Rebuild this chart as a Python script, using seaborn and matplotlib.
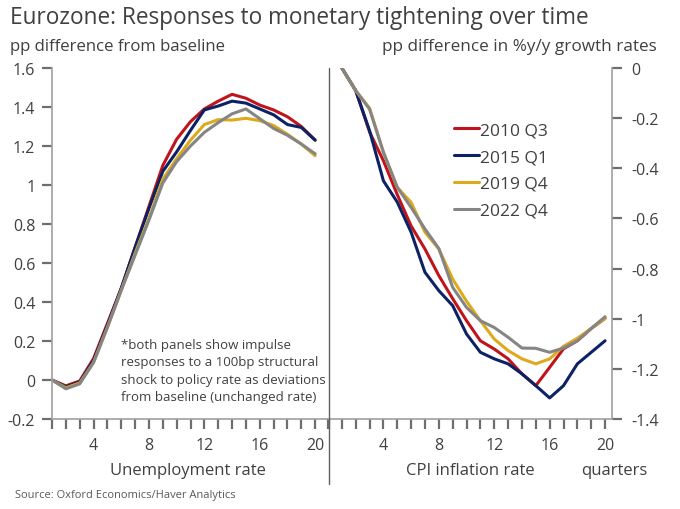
import pandas as pd
import seaborn as sns
import matplotlib.pyplot as plt
from matplotlib.lines import Line2D

# -------------------------
# DATA
# -------------------------
quarters = list(range(1, 21))
series_names = ["2010 Q3", "2015 Q1", "2019 Q4", "2022 Q4"]
colors = ["#c0141c", "#0b2265", "#dcaa1c", "#858585"]

# unemployment rate, pp difference from baseline
unemp_2010q3 = [0, -0.03, -0.005, 0.11, 0.29, 0.47, 0.68, 0.89, 1.10, 1.235,
                1.325, 1.39, 1.43, 1.465, 1.445, 1.41, 1.385, 1.35, 1.30, 1.23]
unemp_2015q1 = [0, -0.035, -0.01, 0.10, 0.28, 0.47, 0.68, 0.88, 1.07, 1.17,
                1.28, 1.385, 1.405, 1.43, 1.42, 1.39, 1.36, 1.31, 1.295, 1.23]
unemp_2019q4 = [0, -0.04, -0.015, 0.09, 0.27, 0.46, 0.65, 0.83, 1.03, 1.135,
                1.23, 1.31, 1.335, 1.333, 1.342, 1.33, 1.305, 1.26, 1.21, 1.15]
unemp_2022q4 = [0, -0.045, -0.02, 0.09, 0.27, 0.46, 0.64, 0.82, 1.01, 1.12,
                1.20, 1.27, 1.32, 1.365, 1.39, 1.34, 1.29, 1.255, 1.21, 1.16]

# CPI inflation, pp difference in %y/y growth rates
cpi_2010q3 = [0, -0.09, -0.255, -0.37, -0.505, -0.63, -0.722, -0.828, -0.92, -1.008,
              -1.088, -1.121, -1.16, -1.22, -1.267, -1.194, -1.12, -1.088, -1.039, -0.999]
cpi_2015q1 = [0, -0.09, -0.25, -0.45, -0.535, -0.655, -0.815, -0.888, -0.948, -1.061,
              -1.134, -1.16, -1.18, -1.22, -1.267, -1.316, -1.267, -1.18, -1.134, -1.088]
cpi_2019q4 = [0, -0.09, -0.16, -0.336, -0.476, -0.536, -0.655, -0.722, -0.842, -0.93,
              -1.008, -1.081, -1.127, -1.16, -1.18, -1.16, -1.11, -1.078, -1.039, -0.999]
cpi_2022q4 = [0, -0.09, -0.164, -0.336, -0.476, -0.556, -0.642, -0.72, -0.875, -0.955,
              -1.008, -1.035, -1.074, -1.117, -1.118, -1.134, -1.117, -1.088, -1.039, -0.992]

left_yticks = [-0.2, 0, 0.2, 0.4, 0.6, 0.8, 1, 1.2, 1.4, 1.6]
right_yticks = [0, -0.2, -0.4, -0.6, -0.8, -1, -1.2, -1.4]
xtick_labels = [4, 8, 12, 16, 20]

unemp = [unemp_2010q3, unemp_2015q1, unemp_2019q4, unemp_2022q4]
cpi = [cpi_2010q3, cpi_2015q1, cpi_2019q4, cpi_2022q4]

rows = []
for name, u, c in zip(series_names, unemp, cpi):
    for q, uv, cv in zip(quarters, u, c):
        rows.append({"quarter": q, "series": name, "unemp": uv, "cpi": cv})
df = pd.DataFrame(rows)

# -------------------------
# STYLE
# -------------------------
txt = "#404040"
spine_col = "#a0a0a0"
tick_col = "#6e6e6e"
sns.set_style("ticks")
plt.rcParams["font.family"] = ["Open Sans", "DejaVu Sans"]
palette = dict(zip(series_names, colors))


def fmt(v):
    s = f"{v:g}"
    return "0" if s in ("0", "-0") else s


fig = plt.figure(figsize=(6.8, 5.1), dpi=100)
ax1 = fig.add_axes([52 / 680, 1 - 420 / 510, 277 / 680, 351 / 510])
ax2 = fig.add_axes([328 / 680, 1 - 420 / 510, 284 / 680, 351 / 510])

# -------------------------
# LEFT PANEL: unemployment
# -------------------------
sns.lineplot(data=df, x="quarter", y="unemp", hue="series", palette=palette,
             linewidth=2.2, ax=ax1, legend=False)

# -------------------------
# RIGHT PANEL: CPI inflation
# -------------------------
sns.lineplot(data=df, x="quarter", y="cpi", hue="series", palette=palette,
             linewidth=2.2, ax=ax2)

ax1.set_xlim(1, 21)
ax1.set_ylim(-0.2, 1.6)
ax1.set_yticks(left_yticks)
ax1.set_yticklabels([fmt(v) for v in left_yticks])
ax1.set_xticks(xtick_labels)
ax1.set_xticks(list(range(1, 22)), minor=True)

ax2.set_xlim(0, 20.5)
ax2.set_ylim(-1.4, 0)
ax2.yaxis.tick_right()
ax2.set_yticks(right_yticks)
ax2.set_yticklabels([fmt(v) for v in right_yticks])
ax2.set_xticks(xtick_labels)
ax2.set_xticks(list(range(0, 21)), minor=True)

for ax in (ax1, ax2):
    ax.set_xlabel("")
    ax.set_ylabel("")
    for s in ax.spines.values():
        s.set_color(spine_col)
        s.set_linewidth(1.2)
    ax.spines["top"].set_visible(False)
    ax.tick_params(axis="x", which="both", direction="out", length=7, width=1.6,
                   color=tick_col, bottom=True, top=False)
    ax.tick_params(axis="x", which="major", labelcolor=txt, labelsize=11.5, pad=6)
    ax.tick_params(axis="y", which="major", direction="out", length=7, width=1.6,
                   color=tick_col, labelcolor=txt, labelsize=11.5)
ax1.spines["right"].set_visible(False)
ax2.spines["left"].set_visible(False)
ax1.tick_params(axis="y", pad=5, left=True, right=False)
ax2.tick_params(axis="y", pad=7, right=True, left=False)

leg = ax2.legend(loc="upper left", bbox_to_anchor=(0.42, 0.866), frameon=False,
                 fontsize=12.5, handlelength=1.4, handletextpad=0.1,
                 labelspacing=0.62, borderaxespad=0)
for t in leg.get_texts():
    t.set_color(txt)

# divider between panels
fig.add_artist(Line2D([328.5 / 680, 328.5 / 680], [1 - 69 / 510, 1 - 485 / 510],
                      color="#606060", linewidth=1.0))

# -------------------------
# TEXT
# -------------------------
fig.text(10 / 680, 1 - 18 / 510, "Eurozone: Responses to monetary tightening over time",
         fontsize=16.3, color=txt, va="center", ha="left")
fig.text(10 / 680, 1 - 47 / 510, "pp difference from baseline",
         fontsize=12.1, color=txt, va="center", ha="left")
fig.text(657 / 680, 1 - 47 / 510, "pp difference in %y/y growth rates",
         fontsize=12.3, color=txt, va="center", ha="right")
fig.text(121 / 680, 1 - 339 / 510,
         "*both panels show impulse\nresponses to a 100bp structural\n"
         "shock to policy rate as deviations\nfrom baseline (unchanged rate)",
         fontsize=9.5, color=txt, va="top", ha="left", linespacing=1.45)
fig.text(188 / 680, 1 - 471 / 510, "Unemployment rate", fontsize=12, color=txt,
         va="center", ha="center")
fig.text(470 / 680, 1 - 471 / 510, "CPI inflation rate", fontsize=12, color=txt,
         va="center", ha="center")
fig.text(614 / 680, 1 - 471 / 510, "quarters", fontsize=12, color=txt,
         va="center", ha="center")
fig.text(15 / 680, 1 - 496 / 510, "Source: Oxford Economics/Haver Analytics",
         fontsize=8.0, color="#595959", va="center", ha="left")

fig.savefig("out.png", dpi=100)
